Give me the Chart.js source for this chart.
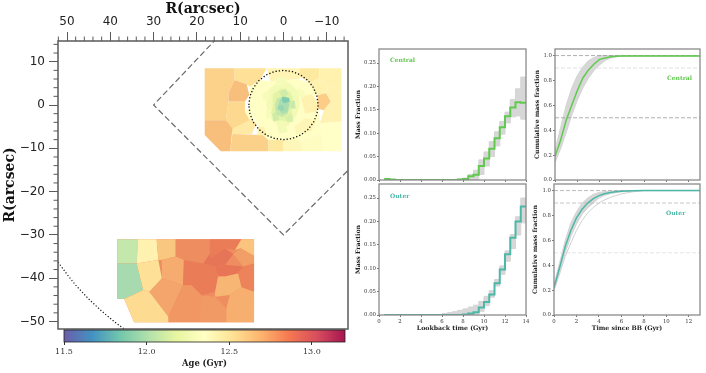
<!DOCTYPE html>
<html><head><meta charset="utf-8">
<style>html,body{margin:0;padding:0;background:#fff;width:706px;height:373px;overflow:hidden}canvas{position:absolute;filter:blur(.35px)}</style>
<script src="https://cdn.jsdelivr.net/npm/chart.js@4"></script>
</head><body>
<script>
// ---------- data ----------
const lookback = [0.5,1,1.5,2,2.5,3,3.5,4,4.5,5,5.5,6,6.5,7,7.5,8,8.5,9,9.5,10,10.5,11,11.5,12,12.5,13,13.5,14];
const centralMass = [.002,.001,0,0,0,0,0,0,0,0,0,0,0,0,.001,.002,.008,.011,.03,.046,.067,.089,.113,.136,.155,.166,.165,.165];
const centralLow  = [0,0,0,0,0,0,0,0,0,0,0,0,0,0,0,0,0,0,.012,.03,.05,.073,.098,.122,.135,.137,.13,.13];
const centralHigh = [.003,.001,.001,.001,.001,.001,.001,.001,.001,.001,.001,.001,.001,.001,.002,.004,.012,.021,.043,.06,.082,.103,.125,.145,.172,.195,.22,.22];
const outerMass = [0,0,0,0,0,0,0,0,0,0,0,0,0,0,0,.001,.003,.006,.016,.028,.044,.068,.097,.13,.165,.2,.232,.232];
const outerLow  = [0,0,0,0,0,0,0,0,0,0,0,0,0,0,0,0,0,.002,.008,.02,.038,.062,.087,.115,.142,.171,.197,.197];
const outerHigh = [0,0,0,0,0,0,0,0,0,0,.001,.003,.005,.007,.01,.013,.017,.021,.029,.04,.052,.076,.105,.137,.172,.21,.25,.25];

const bbTime = [0,.5,1,1.5,2,2.5,3,3.5,4,4.5,5,5.5,6,7,8,13];
const centralCum     = [.19,.32,.48,.6,.72,.82,.885,.933,.97,.98,.99,.995,.996,.997,.997,.997];
const centralCumLow  = [.14,.25,.38,.52,.64,.74,.82,.88,.925,.96,.98,.99,.995,.997,.997,.997];
const centralCumHigh = [.24,.42,.6,.74,.84,.91,.96,.985,1,1,1,1,1,1,1,1];
const outerCum     = [.22,.38,.55,.68,.78,.85,.9,.935,.96,.975,.985,.991,.995,.999,1,1];
const outerCumLow  = [.2,.35,.5,.63,.73,.81,.86,.9,.94,.96,.975,.983,.99,.996,1,1];
const outerCumHigh = [.25,.42,.6,.74,.83,.9,.94,.97,.985,.992,.995,.998,1,1,1,1];
const outerCumSlow = [.2,.33,.47,.58,.68,.76,.82,.865,.9,.925,.945,.96,.973,.99,1,1];

// Voronoi bins: outline in arcsec and mean age in Gyr, painted in list order
const centralBins = [
 [[[18.2,8.5],[11.3,8.5],[11.3,5.8],[12.7,2.8],[12.7,.8],[13.3,-3.5],[18.2,-3.5]],12.58],
 [[[11.3,8.5],[3.9,8.5],[5.4,5.8],[7.7,4.2],[8.5,4.8],[11.3,5.8]],12.53],
 [[[13.3,-3.5],[8.9,-1.9],[6.2,-4.2],[7.3,-6.7],[11.8,-6.7]],12.48],
 [[[12.7,.8],[8.9,.8],[8.9,-1.5],[7.9,-3.5],[11.8,-5.4],[13.3,-3.5]],12.56],
 [[[11.3,5.8],[8.5,4.8],[7.9,2.3],[8.9,.8],[12.7,.8],[12.7,2.8]],12.65],
 [[[18.2,-3.5],[13.3,-3.5],[11.8,-5.4],[12.3,-10.7],[14.5,-10.7],[18.2,-6.9]],12.65],
 [[[11.8,-6.7],[4.7,-6.9],[3.5,-8.1],[3.5,-10.7],[12.3,-10.7]],12.59],
 [[[3.9,8.5],[-3.8,8.5],[-3.8,6],[3,5.5]],12.42],
 [[[-3.8,8.5],[-8.3,8.5],[-8.3,6.2],[-6.1,5.2],[-3.8,6.5]],12.49],
 [[[-8.3,8.5],[-13.4,8.5],[-13.4,2.7],[-10.3,4.6],[-8.3,6.2]],12.44],
 [[[-10.3,4.6],[-13.4,2.7],[-13.4,-3.8],[-8.4,-4.2],[-9.3,-1.2],[-10.9,.8],[-9.8,2.7]],12.43],
 [[[-6.1,5.2],[-8.3,6.2],[-10.3,4.6],[-9.8,2.7],[-8,2.3],[-6,3]],12.44],
 [[[-8,2.3],[-9.8,2.7],[-10.9,.8],[-9.3,-1.2],[-7.7,-.8]],12.6],
 [[[-8.4,-4.2],[-13.4,-3.8],[-13.4,-10.7],[-9.2,-10.7],[-8.8,-6.5]],12.35],
 [[[3.5,-8.1],[0,-8.1],[0,-10.7],[3.5,-10.7]],12.5],
 [[[0,-8.1],[-3.8,-8.1],[-4.6,-10.7],[0,-10.7]],12.4],
 [[[-3.8,-8.1],[-8.8,-6.5],[-9.2,-10.7],[-4.6,-10.7]],12.37],
 [[[3,5.5],[-3,6],[-6,5.2],[-7.5,2],[-8,-.8],[-8.4,-4.2],[-8.8,-6.5],[-3.8,-8.1],[3.5,-8.1],[4.7,-6.9],[6.2,-4.2],[7.7,-.8],[7.9,2.3],[7.7,4.2],[5.4,5.8]],12.34],
 [[[8.9,-1.2],[7.7,-.8],[6.6,-3.5],[8,-3.1]],12.35],
 [[[-4,2],[-6.5,2.5],[-7.7,.5],[-7.8,-1.5],[-5,-2]],12.43],
 [[[-2.5,-5],[-5,-3],[-7.5,-3.5],[-6.5,-6],[-3,-6.5]],12.41],
 [[[4.5,-5],[6,-5],[6,-7],[3.8,-7]],12.44],
 [[[3.5,3.5],[1,5.5],[-1.5,5],[-3.5,3],[-3.8,0],[-3,-2.5],[-1,-4.8],[1,-5],[3,-3],[4,0]],12.26],
 [[[5,2.5],[3.5,3.5],[3,1.5],[4.5,1]],12.28],
 [[[4,-1],[3,-1],[2.8,-3],[4,-3.2]],12.28],
 [[[-3.5,4],[-5,3],[-4.5,1.5],[-3.2,2.5]],12.29],
 [[[1.5,-4.6],[-.5,-4.6],[-1,-6.2],[1,-6.5]],12.26],
 [[[2,6.2],[-.5,6.5],[-1,5],[1.5,4.5]],12.28],
 [[[2.5,2.5],[.5,3.8],[-1.5,3],[-2.5,1],[-1.8,-1],[-2,-3],[-.5,-3.7],[1.2,-3.5],[2.8,-2],[2.5,0]],12.16],
 [[[2.6,-2],[1.2,-1.5],[1,-3.5],[2.4,-3.8]],12.1],
 [[[-.5,-2.6],[-2,-2],[-2.3,-3.8],[-.8,-4]],12.12],
 [[[1,3],[-.5,3.8],[-1.2,2.5],[.3,1.8]],12.1],
 [[[-1.6,.9],[-2.6,.9],[-2.8,-.8],[-1.6,-.8]],12.07],
 [[[1.5,1.5],[-.5,2.2],[-1.6,.5],[-1,-2],[.3,-2.8],[1.8,-2],[2,0]],12.06],
 [[[.8,1.3],[-.8,1.6],[-1.3,0],[-.9,-1.7],[.4,-2],[1.3,-.6]],11.98],
 [[[1.2,-.2],[.1,0],[-.2,-1.1],[.5,-1.4],[1.4,-1]],11.93],
 [[[.3,1.9],[-1.3,1.7],[-1.5,.8],[-.2,.4],[.4,1]],11.86]
];
const outerBins = [
 [[[38.4,-31],[6.8,-31],[6.8,-50.2],[34.5,-50.2],[36.8,-44.8],[38.4,-44.8]],12.8],
 [[[38.4,-31],[33.6,-31],[33.9,-36.6],[38.4,-36.6]],12.06],
 [[[38.4,-36.6],[33.9,-36.6],[32.4,-42.7],[36.8,-44.8],[38.4,-44.8]],11.97],
 [[[33.6,-31],[29.3,-31],[28.9,-35.8],[33.9,-36.6]],12.43],
 [[[29.3,-31],[24.9,-31],[24.9,-35],[28.1,-35.8],[28.9,-35.8]],12.62],
 [[[24.9,-31],[17,-31],[17,-34.3],[18.5,-36.6],[23,-35.8],[24.9,-35]],12.8],
 [[[17,-31],[9.7,-31],[11.2,-33.5],[13.5,-33.1],[17,-35.4]],12.85],
 [[[9.7,-31],[6.8,-31],[6.8,-34.9],[9.9,-33.1],[11.2,-33.5]],12.63],
 [[[9.9,-33.1],[6.8,-34.9],[6.8,-36.6],[9.3,-37.3],[11.6,-34.4]],12.75],
 [[[28.1,-35.8],[24.9,-35],[23,-35.8],[23.2,-41.6],[28.1,-40]],12.71],
 [[[15.8,-37.3],[13.5,-36.9],[9.3,-37.3],[10.5,-38.9],[13.5,-39.6],[15.1,-39.6]],12.87],
 [[[9.3,-37.3],[6.8,-36.6],[6.8,-43.1],[9.7,-42.1],[10.5,-38.9]],12.83],
 [[[23,-35.8],[18.5,-36.6],[15.8,-37.3],[15.1,-39.6],[15.8,-43.1],[18.9,-44],[21.2,-41.6],[23.2,-41.6]],12.85],
 [[[17,-35.4],[13.5,-33.1],[11.6,-34.4],[13.5,-36.9],[15.8,-37.3],[18.5,-36.6],[17,-34.3]],12.88],
 [[[15.1,-39.6],[13.5,-39.6],[10.5,-38.9],[9.7,-42.1],[12.4,-43.9],[15.8,-44.3],[15.8,-43.1]],12.68],
 [[[28.1,-40],[23.2,-41.6],[26.6,-48.9],[31,-43.1]],12.73],
 [[[23.2,-41.6],[21.2,-41.6],[18.9,-44],[19.7,-50.2],[26.6,-50.2],[26.6,-48.9]],12.77],
 [[[18.9,-44],[15.8,-44.3],[13.2,-47],[13.2,-50.2],[19.7,-50.2]],12.76],
 [[[12.4,-43.9],[9.7,-42.1],[6.8,-43.1],[6.8,-50.2],[13.2,-50.2],[13.2,-47]],12.7],
 [[[36.8,-44.8],[32.4,-42.7],[31,-43.1],[26.6,-48.9],[26.6,-50.2],[34.5,-50.2]],12.55],
 [[[33.9,-36.6],[28.9,-35.8],[28.1,-40],[31,-43.1],[32.4,-42.7]],12.53]
];
const fieldEdge = [[15.4,15.4],[30,0],[0,-30],[-15.4,-14.6]];
const aperture = [[8,0],[7.73,2.07],[6.93,4],[5.66,5.66],[4,6.93],[2.07,7.73],[0,8],[-2.07,7.73],[-4,6.93],[-5.66,5.66],[-6.93,4],[-7.73,2.07],[-8,0],[-7.73,-2.07],[-6.93,-4],[-5.66,-5.66],[-4,-6.93],[-2.07,-7.73],[0,-8],[2.07,-7.73],[4,-6.93],[5.66,-5.66],[6.93,-4],[7.73,-2.07],[8,0]];
const outerArc = [[52.5,-35.7],[50,-39.1],[48,-41.6],[45,-44.8],[42,-47.6],[39,-50.1],[36,-52.3]];
const ageRange = [11.5,13.2];
const spectralR = ['#5e4fa2','#3288bd','#66c2a5','#abdda4','#e6f598','#ffffbf','#fee08b','#fdae61','#f46d43','#d53e4f','#9e0142'];

// ---------- helpers ----------
const SERIF = '"DejaVu Serif"', SANS = '"DejaVu Sans"';
const GREEN = '#62c94f', TEAL = '#4db8a8';
Chart.defaults.animation = false;
Chart.defaults.responsive = false;
Chart.defaults.devicePixelRatio = 1;
Chart.defaults.plugins.legend.display = false;
Chart.defaults.plugins.tooltip.enabled = false;
Chart.defaults.elements.point.radius = 0;

function hex(c){return [1,3,5].map(i=>parseInt(c.substr(i,2),16));}
function blend(rgb,a){return rgb.map(v=>Math.round(v*a+255*(1-a)));}
function ageColor(age,alpha=.88){
  const t=Math.min(1,Math.max(0,(age-ageRange[0])/(ageRange[1]-ageRange[0])))*10;
  const i=Math.min(9,Math.floor(t)),f=t-i;
  const a=hex(spectralR[i]),b=hex(spectralR[i+1]);
  const shade=1-.05*Math.min(1,Math.max(0,(t-6)/2));
  const m=blend(a.map((v,k)=>v+(b[k]-v)*f),alpha).map(v=>Math.round(v*shade));
  return `rgb(${m[0]},${m[1]},${m[2]})`;
}
function pts(list){return list.map(p=>({x:p[0],y:p[1]}));}
function xy(xs,ys){return xs.map((x,i)=>({x,y:ys[i]}));}

// fills a dataset's own scale-mapped points as a closed polygon
const polyFill={id:'polyFill',beforeDatasetDraw(chart,args){
  const ds=chart.data.datasets[args.index];
  if(!ds.polyColor)return;
  const c=chart.ctx,a=chart.chartArea;
  c.save();c.beginPath();c.rect(a.left,a.top,a.right-a.left,a.bottom-a.top);c.clip();
  c.beginPath();args.meta.data.forEach((p,i)=>i?c.lineTo(p.x,p.y):c.moveTo(p.x,p.y));c.closePath();
  c.fillStyle=ds.polyColor;c.fill();c.restore();
}};
const extras={id:'extras',
  afterDraw(chart,_,o){
    const c=chart.ctx,a=chart.chartArea;
    if(o.frame){c.save();c.strokeStyle=o.frame;c.lineWidth=o.frameWidth||1;c.strokeRect(a.left,a.top,a.right-a.left,a.bottom-a.top);c.restore();}
    if(o.minorX){c.save();c.strokeStyle=o.frame;c.lineWidth=1;c.beginPath();
      o.minorX.forEach(v=>{const p=chart.scales.x.getPixelForValue(v);c.moveTo(p,a.top);c.lineTo(p,a.top-o.minorLen);});
      o.minorY.forEach(v=>{const p=chart.scales.y.getPixelForValue(v);c.moveTo(a.left,p);c.lineTo(a.left-o.minorLen,p);});
      c.stroke();c.restore();}
    (o.texts||[]).forEach(t=>{c.save();c.font=t.font;c.fillStyle=t.color;c.textAlign='left';c.textBaseline='middle';
      c.fillText(t.text,chart.scales.x.getPixelForValue(t.x),chart.scales.y.getPixelForValue(t.y));c.restore();});
  }};
function fitY(w){return s=>{s.width=w;s.paddingTop=0;s.paddingBottom=0;};}
function fitX(h){return s=>{s.height=h;s.paddingLeft=0;s.paddingRight=0;};}

function place(l,t,r,b,axL,axT,padR,axB){
  const cv=document.createElement('canvas');
  cv.width=axL+(r-l)+padR;cv.height=axT+(b-t)+axB;
  cv.style.left=(l-axL)+'px';cv.style.top=(t-axT)+'px';
  document.body.appendChild(cv);return cv;
}

// ---------- main map ----------
(function(){
  const bins=centralBins.concat(outerBins);
  const datasets=[];
  bins.forEach(b=>{datasets.push({data:pts(b[0]),showLine:false,polyColor:ageColor(b[1])});});
  datasets.push({data:pts(fieldEdge),showLine:true,borderColor:'#6a6a6a',borderWidth:1.2,borderDash:[6,3]});
  datasets.push({data:pts(aperture),showLine:true,borderColor:'#111',borderWidth:1.3,borderDash:[1.3,2]});
  datasets.push({data:pts(outerArc),showLine:true,borderColor:'#111',borderWidth:1.2,borderDash:[1.2,2]});
  const n=datasets.length;datasets.forEach((d,i)=>d.order=n-i);
  const minorX=[],minorY=[];
  for(let v=-14;v<=52;v+=2)if(v%10)minorX.push(v);
  for(let v=-50;v<=14;v+=2)if(v%10)minorY.push(v);
  const cv=place(58,41,348,329,58,41,5,4);
  new Chart(cv,{type:'scatter',data:{datasets},plugins:[polyFill,extras],options:{
    layout:{padding:{right:5,bottom:4}},
    plugins:{extras:{frame:'#5a5a5a',frameWidth:1.5,minorX,minorY,minorLen:4.5}},
    scales:{
      x:{position:'top',reverse:true,min:-14.9,max:52.08,afterFit:fitX(41),
        title:{display:true,text:'R(arcsec)',color:'#111',padding:{top:1,bottom:0},font:{family:SERIF,size:14,weight:'bold'}},
        grid:{drawOnChartArea:false,tickLength:9,tickColor:'#5a5a5a',tickWidth:1},border:{display:false},
        ticks:{stepSize:10,includeBounds:false,autoSkip:false,maxRotation:0,padding:3,color:'#222',font:{family:SANS,size:12},
          callback:v=>String(v).replace('-','\u2212')}},
      y:{min:-51.73,max:14.78,afterFit:fitY(58),
        title:{display:true,text:'R(arcsec)',color:'#111',padding:{top:2,bottom:0},font:{family:SERIF,size:14,weight:'bold'}},
        grid:{drawOnChartArea:false,tickLength:9,tickColor:'#5a5a5a',tickWidth:1},border:{display:false},
        ticks:{stepSize:10,includeBounds:false,autoSkip:false,padding:4,color:'#222',font:{family:SANS,size:12},
          callback:v=>String(v).replace('-','\u2212')}}
    }}});
})();

// ---------- colour bar ----------
(function(){
  const cv=place(64,330,345,342,24,5,8,31);
  new Chart(cv,{type:'bar',data:{labels:['Age'],datasets:[{data:[ageRange],categoryPercentage:1,barPercentage:1,
    backgroundColor:c=>{const a=c.chart.chartArea;if(!a)return '#fff';
      const g=c.chart.ctx.createLinearGradient(a.left,0,a.right,0);
      spectralR.forEach((s,i)=>{const m=blend(hex(s),.92);g.addColorStop(i/10,`rgb(${m[0]},${m[1]},${m[2]})`);});return g;}}]},
    plugins:[extras],
    options:{indexAxis:'y',layout:{padding:{left:24,top:5,right:8}},
    plugins:{extras:{frame:'#222',frameWidth:.8}},
    scales:{y:{display:false},
      x:{min:ageRange[0],max:ageRange[1],afterFit:fitX(31),
        title:{display:true,text:'Age (Gyr)',color:'#222',padding:{top:0,bottom:4.5},font:{family:SERIF,size:8.4,weight:'bold'}},
        grid:{drawOnChartArea:false,tickLength:3,tickColor:'#333'},border:{display:false},
        ticks:{stepSize:.5,includeBounds:false,autoSkip:false,maxRotation:0,padding:2,color:'#333',font:{family:SERIF,size:8},callback:v=>v.toFixed(1)}}
    }}});
})();

// ---------- small panels ----------
function panel(cfg){
  const axL=cfg.l-cfg.cx,padR=cfg.padR||4,axB=17;
  const cv=place(cfg.l,cfg.t,cfg.r,cfg.b,axL,4,padR,axB);
  const st=cfg.step?'before':false;
  const ds=[];
  ds.push({data:xy(cfg.xs,cfg.main),showLine:true,stepped:st,borderColor:cfg.color,borderWidth:cfg.step?2:1.5});
  (cfg.extraLines||[]).forEach(e=>ds.push({data:xy(cfg.xs,e),showLine:true,borderColor:'#d0d0d0',borderWidth:1}));
  (cfg.hlines||[]).forEach(h=>ds.push({data:[{x:0,y:h[0]},{x:cfg.xmax,y:h[0]}],showLine:true,borderColor:h[1],borderWidth:.8,borderDash:[4,2]}));
  const k=ds.length;
  ds.push({data:xy(cfg.xs,cfg.low),showLine:true,stepped:st,borderColor:'#d4d4d4',borderWidth:1});
  ds.push({data:xy(cfg.xs,cfg.high),showLine:true,stepped:st,borderColor:'#d4d4d4',borderWidth:1,fill:k,backgroundColor:'rgba(205,205,205,.8)'});
  new Chart(cv,{type:'scatter',data:{datasets:ds},plugins:[extras],options:{
    layout:{padding:{right:padR,top:4}},
    plugins:{extras:{frame:'#8a8a8a',frameWidth:1.3,texts:[cfg.label]}},
    scales:{
      x:{min:0,max:cfg.xmax,afterFit:fitX(axB),
        title:{display:!!cfg.xtitle,text:cfg.xtitle||'',color:'#222',padding:{top:0,bottom:0},font:{family:SERIF,size:6.2,weight:'bold'}},
        grid:{drawOnChartArea:false,tickLength:2,tickColor:'#777'},border:{display:false},
        ticks:{display:!!cfg.xtitle,stepSize:2,includeBounds:false,autoSkip:false,maxRotation:0,padding:1,color:'#333',font:{family:SERIF,size:5.4},callback:v=>String(v)}},
      y:{min:0,max:cfg.ymax,afterFit:fitY(axL),
        title:{display:true,text:cfg.ytitle,color:'#222',padding:{top:cfg.ytop,bottom:0},font:{family:SERIF,size:6.2,weight:'bold'}},
        grid:{drawOnChartArea:false,tickLength:2,tickColor:'#777'},border:{display:false},
        ticks:{stepSize:cfg.ystep,includeBounds:false,autoSkip:false,padding:1,color:'#333',font:{family:SERIF,size:5.4},callback:v=>v.toFixed(cfg.ydec)}}
    }}});
}
const LF=`bold 6px ${SERIF}`;
panel({l:379,t:49,r:526,b:180,cx:350,step:true,xs:lookback,main:centralMass,low:centralLow,high:centralHigh,color:GREEN,xmax:14,ymax:.28,ystep:.05,ydec:2,ytop:5,
  ytitle:'Mass Fraction',label:{x:1.05,y:.255,text:'Central',color:GREEN,font:LF}});
panel({l:379,t:184,r:526,b:315,cx:350,step:true,xs:lookback,main:outerMass,low:outerLow,high:outerHigh,color:TEAL,xmax:14,ymax:.28,ystep:.05,ydec:2,ytop:5,
  ytitle:'Mass Fraction',xtitle:'Lookback time (Gyr)',label:{x:1.05,y:.253,text:'Outer',color:TEAL,font:LF}});
panel({l:555,t:49,r:700,b:180,cx:530,padR:6,xs:bbTime,main:centralCum,low:centralCumLow,high:centralCumHigh,color:GREEN,xmax:13,ymax:1.053,ystep:.2,ydec:1,ytop:4,
  ytitle:'Cumulative mass fraction',hlines:[[1,'#999'],[.9,'#d8d8d8'],[.5,'#999']],label:{x:10.04,y:.82,text:'Central',color:GREEN,font:LF}});
panel({l:554,t:184,r:700,b:315,cx:530,padR:6,xs:bbTime,main:outerCum,low:outerCumLow,high:outerCumHigh,extraLines:[outerCumSlow],color:TEAL,xmax:13,ymax:1.053,ystep:.2,ydec:1,ytop:2,
  ytitle:'Cumulative mass fraction',xtitle:'Time since BB (Gyr)',hlines:[[1,'#aaa'],[.9,'#bbb'],[.5,'#ddd']],label:{x:9.97,y:.82,text:'Outer',color:TEAL,font:LF}});
</script>
</body></html>
